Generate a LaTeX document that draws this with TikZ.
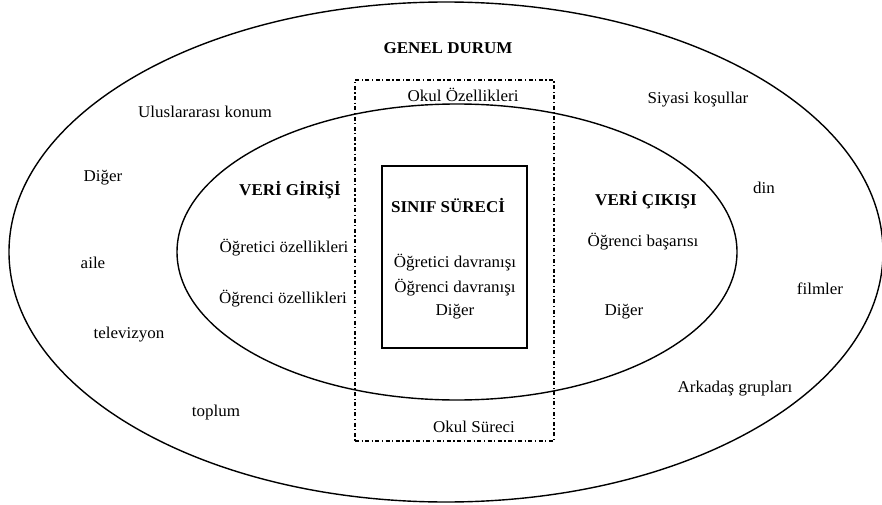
\documentclass[tikz,border=0pt]{standalone}
\usepackage{fontspec}
\setmainfont[FakeStretch=1.03]{Liberation Serif}
\usetikzlibrary{shapes.geometric}
\begin{document}
\begin{tikzpicture}[x=1pt,y=-1pt,
  lbl/.style={inner sep=0pt, text height=10pt, text depth=0pt, font=\fontsize{16.5}{19}\selectfont},
  head/.style={lbl, font=\fontsize{16.5}{19}\selectfont\bfseries},
  ring/.style={draw, ellipse, inner sep=0pt, line width=1.4pt},
  schoolbox/.style={draw, rectangle, inner sep=0pt, line width=1.2pt,
    dash pattern=on 4pt off 2.5pt on 1.2pt off 2.5pt},
  classbox/.style={draw, rectangle, inner sep=0pt, line width=1.4pt}]
\useasboundingbox (0,0) rectangle (882,505);

% general setting and the input/output ellipse
\node[ring, minimum width=874pt, minimum height=500pt] (genel) at (446,252) {};
\node[ring, minimum width=560pt, minimum height=296pt] (veri) at (457,252) {};

% school frame and classroom process
\node[schoolbox, minimum width=199pt, minimum height=361pt] (okul) at (454.5,260.5) {};
\node[classbox, minimum width=145pt, minimum height=182pt] (sinif) at (454.5,257) {};

% headings
\node[head] (tGenel) at (448,49) {GENEL DURUM};
\node[head] (tGiris) at (290,190) {VERİ GİRİŞİ};
\node[head] (tSinif) at (448,207) {SINIF SÜRECİ};
\node[head] (tCikis) at (646,200) {VERİ ÇIKIŞI};

% school labels
\node[lbl] (tOkulOz) at (463,97) {Okul Özellikleri};
\node[lbl] (tOkulSur) at (474,427) {Okul Süreci};

% input side
\node[lbl] (tOgretOz) at (284,247) {Öğretici özellikleri};
\node[lbl] (tOgrenOz) at (283,298) {Öğrenci özellikleri};

% classroom
\node[lbl] (tOgretDav) at (455,262) {Öğretici davranışı};
\node[lbl] (tOgrenDav) at (455,287) {Öğrenci davranışı};
\node[lbl] (tDigerS) at (455,310) {Diğer};

% output side
\node[lbl] (tBasari) at (643,241) {Öğrenci başarısı};
\node[lbl] (tDigerC) at (624,310) {Diğer};

% general setting
\node[lbl] (tUlus) at (205,113) {Uluslararası konum};
\node[lbl] (tSiyasi) at (698,99) {Siyasi koşullar};
\node[lbl] (tDigerG) at (103,176) {Diğer};
\node[lbl] (tDin) at (764,188) {din};
\node[lbl] (tAile) at (93,263) {aile};
\node[lbl] (tFilm) at (820,289) {filmler};
\node[lbl] (tTv) at (129,333) {televizyon};
\node[lbl] (tArk) at (735,387) {Arkadaş grupları};
\node[lbl] (tToplum) at (216,411) {toplum};
\end{tikzpicture}
\end{document}
